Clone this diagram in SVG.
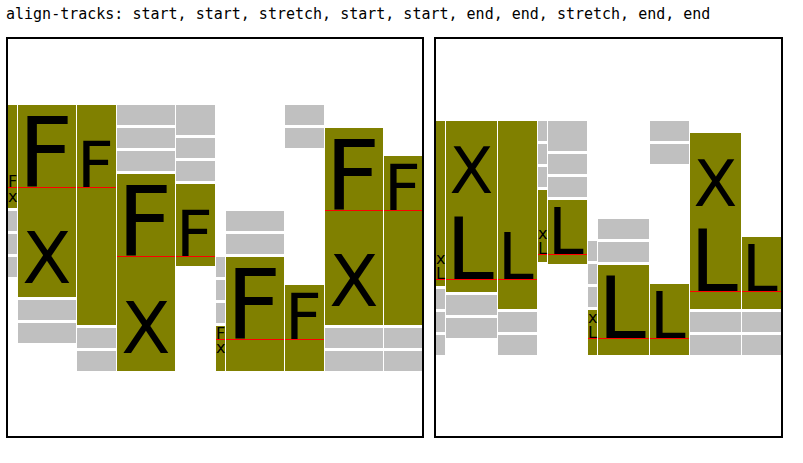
<svg xmlns="http://www.w3.org/2000/svg" width="803" height="463" viewBox="0 0 803 463">
<style>
.o{fill:#808000}
.g{fill:#c0c0c0}
.r{fill:#ff0000}
.fr{fill:none;stroke:#000;stroke-width:2}
.t{font-family:"DejaVu Sans",sans-serif;fill:#000}
.s{font-size:16px}
.m{font-size:64px}
.b{font-size:96px}
.x{font-size:72px;text-anchor:middle}
.xr{font-size:64px;text-anchor:middle}
.lb{font-size:86px}
.title{font-family:"DejaVu Sans Mono",monospace;font-size:15px;fill:#000}
</style>
<rect width="803" height="463" fill="#fff"/>
<text class="title" x="6" y="19">align-tracks: start, start, stretch, start, start, end, end, stretch, end, end</text>

<g id="left-panel">
<rect class="fr" x="7" y="38" width="416" height="399"/>
<g id="L-A">
<rect class="o" x="8" y="105" width="9" height="103"/>
<rect class="g" x="8" y="211" width="9" height="20"/>
<rect class="g" x="8" y="234" width="9" height="20"/>
<rect class="g" x="8" y="257" width="9" height="20"/>
<text class="t s" x="8" y="187">F</text>
<text class="t s" x="8" y="202">x</text>
<rect class="r" x="8" y="187" width="9" height="1"/>
</g>
<g id="L-B">
<rect class="o" x="18" y="105" width="58" height="192"/>
<rect class="g" x="18" y="300" width="58" height="20"/>
<rect class="g" x="18" y="323" width="58" height="20"/>
<text class="t b" x="18" y="187">F</text>
<text class="t x" x="47" y="283">X</text>
<rect class="r" x="18" y="187" width="58" height="1"/>
</g>
<g id="L-C">
<rect class="o" x="77" y="105" width="39" height="220"/>
<rect class="g" x="77" y="328" width="39" height="20"/>
<rect class="g" x="77" y="351" width="39" height="20"/>
<text class="t m" x="77" y="187">F</text>
<rect class="r" x="77" y="187" width="39" height="1"/>
</g>
<g id="L-D">
<rect class="g" x="117" y="105" width="58" height="20"/>
<rect class="g" x="117" y="128" width="58" height="20"/>
<rect class="g" x="117" y="151" width="58" height="20"/>
<rect class="o" x="117" y="174" width="58" height="197"/>
<text class="t b" x="117" y="256">F</text>
<text class="t x" x="146" y="353">X</text>
<rect class="r" x="117" y="256" width="58" height="1"/>
</g>
<g id="L-E">
<rect class="g" x="176" y="105" width="39" height="30"/>
<rect class="g" x="176" y="138" width="39" height="20"/>
<rect class="g" x="176" y="161" width="39" height="20"/>
<rect class="o" x="176" y="184" width="39" height="82"/>
<text class="t m" x="176" y="256">F</text>
<rect class="r" x="176" y="256" width="39" height="1"/>
</g>
<g id="L-F">
<rect class="g" x="216" y="257" width="9" height="20"/>
<rect class="g" x="216" y="280" width="9" height="20"/>
<rect class="g" x="216" y="303" width="9" height="20"/>
<rect class="o" x="216" y="326" width="9" height="45"/>
<text class="t s" x="216" y="339">F</text>
<text class="t s" x="216" y="353">x</text>
<rect class="r" x="216" y="339" width="9" height="1"/>
</g>
<g id="L-G">
<rect class="g" x="226" y="211" width="58" height="20"/>
<rect class="g" x="226" y="234" width="58" height="20"/>
<rect class="o" x="226" y="257" width="58" height="114"/>
<text class="t b" x="226" y="339">F</text>
<rect class="r" x="226" y="339" width="58" height="1"/>
</g>
<g id="L-H">
<rect class="g" x="285" y="105" width="39" height="20"/>
<rect class="g" x="285" y="128" width="39" height="20"/>
<rect class="o" x="285" y="285" width="39" height="86"/>
<text class="t m" x="285" y="339">F</text>
<rect class="r" x="285" y="339" width="39" height="1"/>
</g>
<g id="L-I">
<rect class="o" x="325" y="128" width="58" height="197"/>
<rect class="g" x="325" y="328" width="58" height="20"/>
<rect class="g" x="325" y="351" width="58" height="20"/>
<text class="t b" x="325" y="210">F</text>
<text class="t x" x="354" y="306">X</text>
<rect class="r" x="325" y="210" width="58" height="1"/>
</g>
<g id="L-J">
<rect class="o" x="384" y="156" width="38" height="169"/>
<rect class="g" x="384" y="328" width="38" height="20"/>
<rect class="g" x="384" y="351" width="38" height="20"/>
<text class="t m" x="384" y="210">F</text>
<rect class="r" x="384" y="210" width="38" height="1"/>
</g>
</g>

<g id="right-panel">
<rect class="fr" x="435" y="38" width="347" height="399"/>
<g id="R-a">
<rect class="o" x="436" y="121" width="9" height="165"/>
<rect class="g" x="436" y="289" width="9" height="20"/>
<rect class="g" x="436" y="312" width="9" height="20"/>
<rect class="g" x="436" y="335" width="9" height="20"/>
<text class="t s" x="436" y="264">x</text>
<text class="t s" x="436" y="279">L</text>
<rect class="r" x="436" y="279" width="9" height="1"/>
</g>
<g id="R-b">
<rect class="o" x="446" y="121" width="51" height="171"/>
<rect class="g" x="446" y="295" width="51" height="20"/>
<rect class="g" x="446" y="318" width="51" height="20"/>
<text class="t xr" x="471.5" y="193">X</text>
<text class="t lb" x="446" y="279">L</text>
<rect class="r" x="446" y="279" width="51" height="1"/>
</g>
<g id="R-c">
<rect class="o" x="498" y="121" width="39" height="188"/>
<rect class="g" x="498" y="312" width="39" height="20"/>
<rect class="g" x="498" y="335" width="39" height="20"/>
<text class="t m" x="498" y="279">L</text>
<rect class="r" x="498" y="279" width="39" height="1"/>
</g>
<g id="R-d">
<rect class="g" x="538" y="121" width="9" height="20"/>
<rect class="g" x="538" y="144" width="9" height="20"/>
<rect class="g" x="538" y="167" width="9" height="20"/>
<rect class="o" x="538" y="190" width="9" height="72"/>
<text class="t s" x="538" y="239">x</text>
<text class="t s" x="538" y="254">L</text>
<rect class="r" x="538" y="254" width="9" height="1"/>
</g>
<g id="R-e">
<rect class="g" x="548" y="121" width="39" height="30"/>
<rect class="g" x="548" y="154" width="39" height="20"/>
<rect class="g" x="548" y="177" width="39" height="20"/>
<rect class="o" x="548" y="200" width="39" height="64"/>
<text class="t m" x="548" y="254">L</text>
<rect class="r" x="548" y="254" width="39" height="1"/>
</g>
<g id="R-f">
<rect class="g" x="588" y="241" width="9" height="20"/>
<rect class="g" x="588" y="264" width="9" height="20"/>
<rect class="g" x="588" y="287" width="9" height="20"/>
<rect class="o" x="588" y="310" width="9" height="45"/>
<text class="t s" x="588" y="323">x</text>
<text class="t s" x="588" y="338">L</text>
<rect class="r" x="588" y="338" width="9" height="1"/>
</g>
<g id="R-g">
<rect class="g" x="598" y="219" width="51" height="20"/>
<rect class="g" x="598" y="242" width="51" height="20"/>
<rect class="o" x="598" y="265" width="51" height="90"/>
<text class="t lb" x="598" y="338">L</text>
<rect class="r" x="598" y="338" width="51" height="1"/>
</g>
<g id="R-h">
<rect class="g" x="650" y="121" width="39" height="20"/>
<rect class="g" x="650" y="144" width="39" height="20"/>
<rect class="o" x="650" y="284" width="39" height="71"/>
<text class="t m" x="650" y="338">L</text>
<rect class="r" x="650" y="338" width="39" height="1"/>
</g>
<g id="R-i">
<rect class="o" x="690" y="133" width="51" height="176"/>
<rect class="g" x="690" y="312" width="51" height="20"/>
<rect class="g" x="690" y="335" width="51" height="20"/>
<text class="t xr" x="715.5" y="206">X</text>
<text class="t lb" x="690" y="291">L</text>
<rect class="r" x="690" y="291" width="51" height="1"/>
</g>
<g id="R-j">
<rect class="o" x="742" y="237" width="39" height="72"/>
<rect class="g" x="742" y="312" width="39" height="20"/>
<rect class="g" x="742" y="335" width="39" height="20"/>
<text class="t m" x="742" y="291">L</text>
<rect class="r" x="742" y="291" width="39" height="1"/>
</g>
</g>
<g id="connectors"/>
</svg>
